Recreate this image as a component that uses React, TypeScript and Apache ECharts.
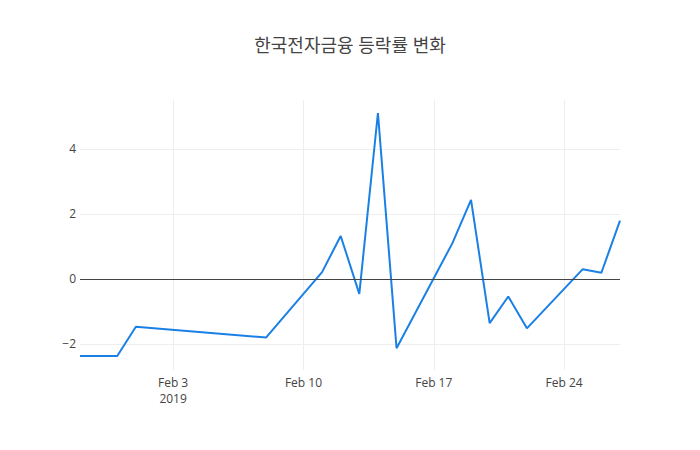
import React, { useEffect, useRef } from "react";
import * as echarts from "echarts";

const titleText = "한국전자금융 등락률 변화";
const dates = [
  "2019-01-29", "2019-01-30", "2019-01-31", "2019-02-01", "2019-02-08",
  "2019-02-11", "2019-02-12", "2019-02-13", "2019-02-14", "2019-02-15",
  "2019-02-18", "2019-02-19", "2019-02-20", "2019-02-21", "2019-02-22",
  "2019-02-25", "2019-02-26", "2019-02-27",
];
const changes = [
  -2.37, -2.37, -2.37, -1.47, -1.8,
  0.21, 1.32, -0.46, 5.1, -2.13,
  1.1, 2.43, -1.36, -0.54, -1.52,
  0.3, 0.19, 1.79,
];
const xTickDates = ["2019-02-03", "2019-02-10", "2019-02-17", "2019-02-24"];
const yTicks = [-2, 0, 2, 4];
const yMin = -2.8;
const yMax = 5.5;

const MONTHS = ["Jan", "Feb", "Mar", "Apr", "May", "Jun", "Jul", "Aug", "Sep", "Oct", "Nov", "Dec"];
const DAY = 86400000;

function toTs(s: string): number {
  const [y, m, d] = s.split("-").map(Number);
  return Date.UTC(y, m - 1, d);
}
const base = toTs(dates[0]);
function toDay(s: string): number {
  return Math.round((toTs(s) - base) / DAY);
}

export default function App() {
  const ref = useRef<HTMLDivElement>(null);
  useEffect(() => {
    if (!ref.current) return;
    const chart = echarts.init(ref.current, undefined, { renderer: "svg" });
    const font = '"Open Sans", "Noto Sans CJK KR", sans-serif';
    const xTicks = xTickDates.map(toDay);
    chart.setOption({
      animation: false,
      backgroundColor: "#fff",
      textStyle: { fontFamily: font },
      title: {
        text: titleText,
        left: "center",
        top: 31,
        textStyle: { fontFamily: font, fontSize: 18, fontWeight: "normal", color: "#444" },
      },
      grid: { left: 80, right: 80, top: 100, bottom: 80, containLabel: false },
      xAxis: {
        type: "value",
        min: 0,
        max: toDay(dates[dates.length - 1]),
        axisLine: { show: false },
        axisTick: { show: false, customValues: xTicks },
        splitLine: { show: true, lineStyle: { color: "#eee", width: 1 } },
        axisLabel: {
          customValues: xTicks,
          margin: 4,
          color: "#444",
          fontSize: 12,
          fontFamily: font,
          lineHeight: 16,
          formatter: (v: number) => {
            const d = new Date(base + v * DAY);
            const s = MONTHS[d.getUTCMonth()] + " " + d.getUTCDate();
            return v === xTicks[0] ? s + "\n" + d.getUTCFullYear() : s;
          },
        },
      },
      yAxis: {
        type: "value",
        min: yMin,
        max: yMax,
        axisLine: { show: false },
        axisTick: { show: false, customValues: yTicks },
        splitLine: { show: true, lineStyle: { color: "#eee", width: 1 } },
        axisLabel: {
          customValues: yTicks,
          margin: 4,
          color: "#444",
          fontSize: 12,
          fontFamily: font,
          formatter: (v: number) => (v < 0 ? "\u2212" + Math.abs(v) : String(v)),
        },
      },
      series: [
        {
          type: "line",
          data: dates.map((d, i) => [toDay(d), changes[i]]),
          showSymbol: false,
          symbol: "none",
          lineStyle: { color: "#1a80e6", width: 2 },
          itemStyle: { color: "#1a80e6" },
          markLine: {
            silent: true,
            symbol: "none",
            label: { show: false },
            lineStyle: { color: "#444", width: 1, type: "solid" },
            data: [{ yAxis: 0 }],
          },
          z: 3,
        },
      ],
    });
    return () => chart.dispose();
  }, []);
  return (
    <div
      ref={ref}
      style={{ position: "fixed", left: 0, top: 0, width: 700, height: 450 }}
    />
  );
}
